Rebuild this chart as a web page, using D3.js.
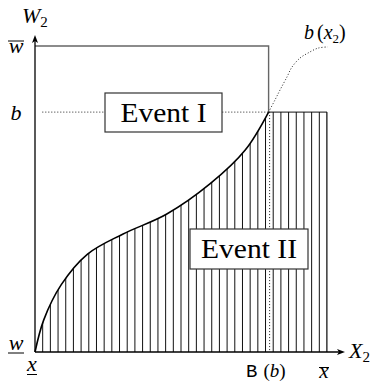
<!DOCTYPE html>
<html>
<head>
<meta charset="utf-8">
<script src="https://cdn.jsdelivr.net/npm/d3@7"></script>
<style>
  html, body { margin: 0; padding: 0; background: #fff; }
  svg { display: block; }
  .math { font-family: "Liberation Serif", "DejaVu Serif", serif; font-style: italic; fill: #000; }
  .roman { font-family: "Liberation Serif", "DejaVu Serif", serif; font-style: normal; fill: #000; }
  .mono { font-family: "Liberation Mono", "DejaVu Sans Mono", monospace; font-style: normal; fill: #000; }
</style>
</head>
<body>
<script>
// Boundary b(x2) between the two events, on the unit grid x in [0,10], w in [0,10]
const curveX = [0, 0.30, 0.90, 1.80, 3.00, 4.50, 6.00, 7.20, 8.0];
const curveW = [0, 1.05, 2.20, 3.20, 3.85, 4.50, 5.50, 6.60, 7.84];
// Continuation of b(x2) past the level b (dotted)
const extX = [8.0, 8.22, 8.39, 8.63, 8.80, 9.08, 9.35, 9.69, 10.03];
const extW = [7.84, 8.24, 8.56, 8.99, 9.31, 9.61, 9.77, 9.93, 9.97];
// Key levels
const levelB = 7.84;     // b
const wMax = 10;         // upper bound of W2
const xMax = 10;         // upper bound of X2
const xB = 8;            // B(b)
const eventLabels = ["Event I", "Event II"];

const W = 375, H = 383;
const svg = d3.select("body").append("svg").attr("width", W).attr("height", H);

const x = d3.scaleLinear().domain([0, 10]).range([35, 327]);
const y = d3.scaleLinear().domain([0, 10]).range([352, 46]);

const curvePts = curveX.map((v, i) => [v, curveW[i]]);
const extPts = extX.map((v, i) => [v, extW[i]]);

const smooth = d3.curveCatmullRom.alpha(0.5);
const line = d3.line().x(d => x(d[0])).y(d => y(d[1])).curve(smooth);
const area = d3.area().x(d => x(d[0])).y0(y(0)).y1(d => y(d[1])).curve(smooth);

// Region under the boundary, plus the block between B(b) and the upper bound
const clip = svg.append("defs").append("clipPath").attr("id", "hatch-clip");
clip.append("path").attr("d", area(curvePts));
clip.append("rect")
  .attr("x", x(xB)).attr("y", y(levelB))
  .attr("width", x(xMax) - x(xB)).attr("height", y(0) - y(levelB));

// Vertical hatching of Event II
const hatchX = d3.range(0, 39).map(k => k * xMax / 38);
svg.append("g").attr("clip-path", "url(#hatch-clip)")
  .selectAll("line").data(hatchX).join("line")
  .attr("x1", d => x(d)).attr("x2", d => x(d))
  .attr("y1", y(0)).attr("y2", y(levelB) - 1)
  .attr("stroke", "#111").attr("stroke-width", 1);

// Outline of the block right of B(b)
svg.append("path")
  .attr("d", d3.line()([[x(xB), y(levelB)], [x(xMax), y(levelB)], [x(xMax), y(0)]]))
  .attr("fill", "none").attr("stroke", "#111").attr("stroke-width", 1);

// Upper bound box (gray)
svg.append("path")
  .attr("d", d3.line()([[x(0), y(wMax)], [x(xB), y(wMax)], [x(xB), y(levelB)]]))
  .attr("fill", "none").attr("stroke", "#666").attr("stroke-width", 1.4);

// Dotted guides: level b and B(b)
svg.append("line")
  .attr("x1", x(0.25)).attr("x2", x(xB))
  .attr("y1", y(levelB)).attr("y2", y(levelB))
  .attr("stroke", "#222").attr("stroke-width", 1).attr("stroke-dasharray", "1,2");
svg.append("line")
  .attr("x1", x(xB) + 1).attr("x2", x(xB) + 1)
  .attr("y1", y(levelB)).attr("y2", y(0))
  .attr("stroke", "#222").attr("stroke-width", 1).attr("stroke-dasharray", "1,2");

// Dotted continuation of b(x2)
svg.append("path").attr("d", line(extPts))
  .attr("fill", "none").attr("stroke", "#222").attr("stroke-width", 1)
  .attr("stroke-dasharray", "1,2");

// Boundary curve
svg.append("path").attr("d", line(curvePts))
  .attr("fill", "none").attr("stroke", "#000").attr("stroke-width", 1.6);

// Event boxes
const boxes = [
  { label: eventLabels[0], x0: 105, y0: 93, w: 117, h: 39, tl: 86 },
  { label: eventLabels[1], x0: 190, y0: 229, w: 118, h: 40, tl: 96 }
];
const bg = svg.selectAll("g.box").data(boxes).join("g").attr("class", "box");
bg.append("rect")
  .attr("x", d => d.x0).attr("y", d => d.y0)
  .attr("width", d => d.w).attr("height", d => d.h)
  .attr("fill", "#fff").attr("stroke", "#333").attr("stroke-width", 1.2);
bg.append("text").attr("class", "roman")
  .attr("font-family", "Liberation Serif, DejaVu Serif, serif")
  .attr("x", d => d.x0 + d.w / 2).attr("y", d => d.y0 + d.h / 2 + 9)
  .attr("text-anchor", "middle").attr("font-size", 27)
  .attr("textLength", d => d.tl).attr("lengthAdjust", "spacingAndGlyphs")
  .text(d => d.label);

// Axes with arrowheads
svg.append("line").attr("x1", x(0)).attr("x2", x(0)).attr("y1", y(0)).attr("y2", 40)
  .attr("stroke", "#000").attr("stroke-width", 1.3);
svg.append("line").attr("x1", x(0)).attr("x2", 340).attr("y1", y(0)).attr("y2", y(0))
  .attr("stroke", "#000").attr("stroke-width", 1.3);
svg.append("path").attr("d", `M${x(0)},35 L${x(0) + 3},43 L${x(0)},41 L${x(0) - 3},43 Z`).attr("fill", "#000");
svg.append("path").attr("d", `M345,${y(0)} L337,${y(0) - 3} L339,${y(0)} L337,${y(0) + 3} Z`).attr("fill", "#000");

// Axis titles
const wt = svg.append("text").attr("class", "math").attr("x", 22).attr("y", 23).attr("font-size", 22);
wt.append("tspan").text("W");
wt.append("tspan").attr("class", "roman").attr("font-size", 15).attr("dy", 4).text("2");
const xt = svg.append("text").attr("class", "math").attr("x", 349).attr("y", 358).attr("font-size", 22);
xt.append("tspan").text("X");
xt.append("tspan").attr("class", "roman").attr("font-size", 15).attr("dy", 4).text("2");

// Curve label b(x2)
const bl = svg.append("text").attr("class", "math").attr("x", 304).attr("y", 39).attr("font-size", 20);
bl.append("tspan").text("b");
bl.append("tspan").attr("class", "roman").attr("dx", 3).text("(");
bl.append("tspan").text("x");
bl.append("tspan").attr("class", "roman").attr("font-size", 13).attr("dy", 4).text("2");
bl.append("tspan").attr("class", "roman").attr("dy", -4).text(")");

// Level labels on W2
const yLabels = [
  { t: "w", v: 0, bar: "under", by: 350 },
  { t: "b", v: levelB, bar: null, by: 120 },
  { t: "w", v: wMax, bar: "over", by: 53 }
];
yLabels.forEach(d => {
  svg.append("text").attr("class", "math").attr("x", 16).attr("y", d.by)
    .attr("text-anchor", "middle").attr("font-size", 22).text(d.t);
  if (d.bar === "over") {
    svg.append("line").attr("x1", 8).attr("x2", 24).attr("y1", d.by - 12).attr("y2", d.by - 12)
      .attr("stroke", "#000").attr("stroke-width", 1);
  } else if (d.bar === "under") {
    svg.append("line").attr("x1", 8).attr("x2", 24).attr("y1", d.by + 3).attr("y2", d.by + 3)
      .attr("stroke", "#000").attr("stroke-width", 1);
  }
});

// Level labels on X2
svg.append("text").attr("class", "math").attr("x", x(0) - 3).attr("y", 371)
  .attr("text-anchor", "middle").attr("font-size", 22).text("x");
svg.append("line").attr("x1", x(0) - 8).attr("x2", x(0) + 2).attr("y1", 374.5).attr("y2", 374.5)
  .attr("stroke", "#000").attr("stroke-width", 1);

svg.append("text").attr("class", "math").attr("x", x(xMax) - 3).attr("y", 378)
  .attr("text-anchor", "middle").attr("font-size", 21).text("x");
svg.append("line").attr("x1", x(xMax) - 8).attr("x2", x(xMax) + 2).attr("y1", 367.5).attr("y2", 367.5)
  .attr("stroke", "#000").attr("stroke-width", 1);

const bb = svg.append("text").attr("x", 246).attr("y", 377).attr("font-size", 19);
bb.append("tspan").attr("class", "mono").text("B");
bb.append("tspan").attr("class", "roman").attr("dx", 6).text("(");
bb.append("tspan").attr("class", "math").text("b");
bb.append("tspan").attr("class", "roman").text(")");
</script>
</body>
</html>
